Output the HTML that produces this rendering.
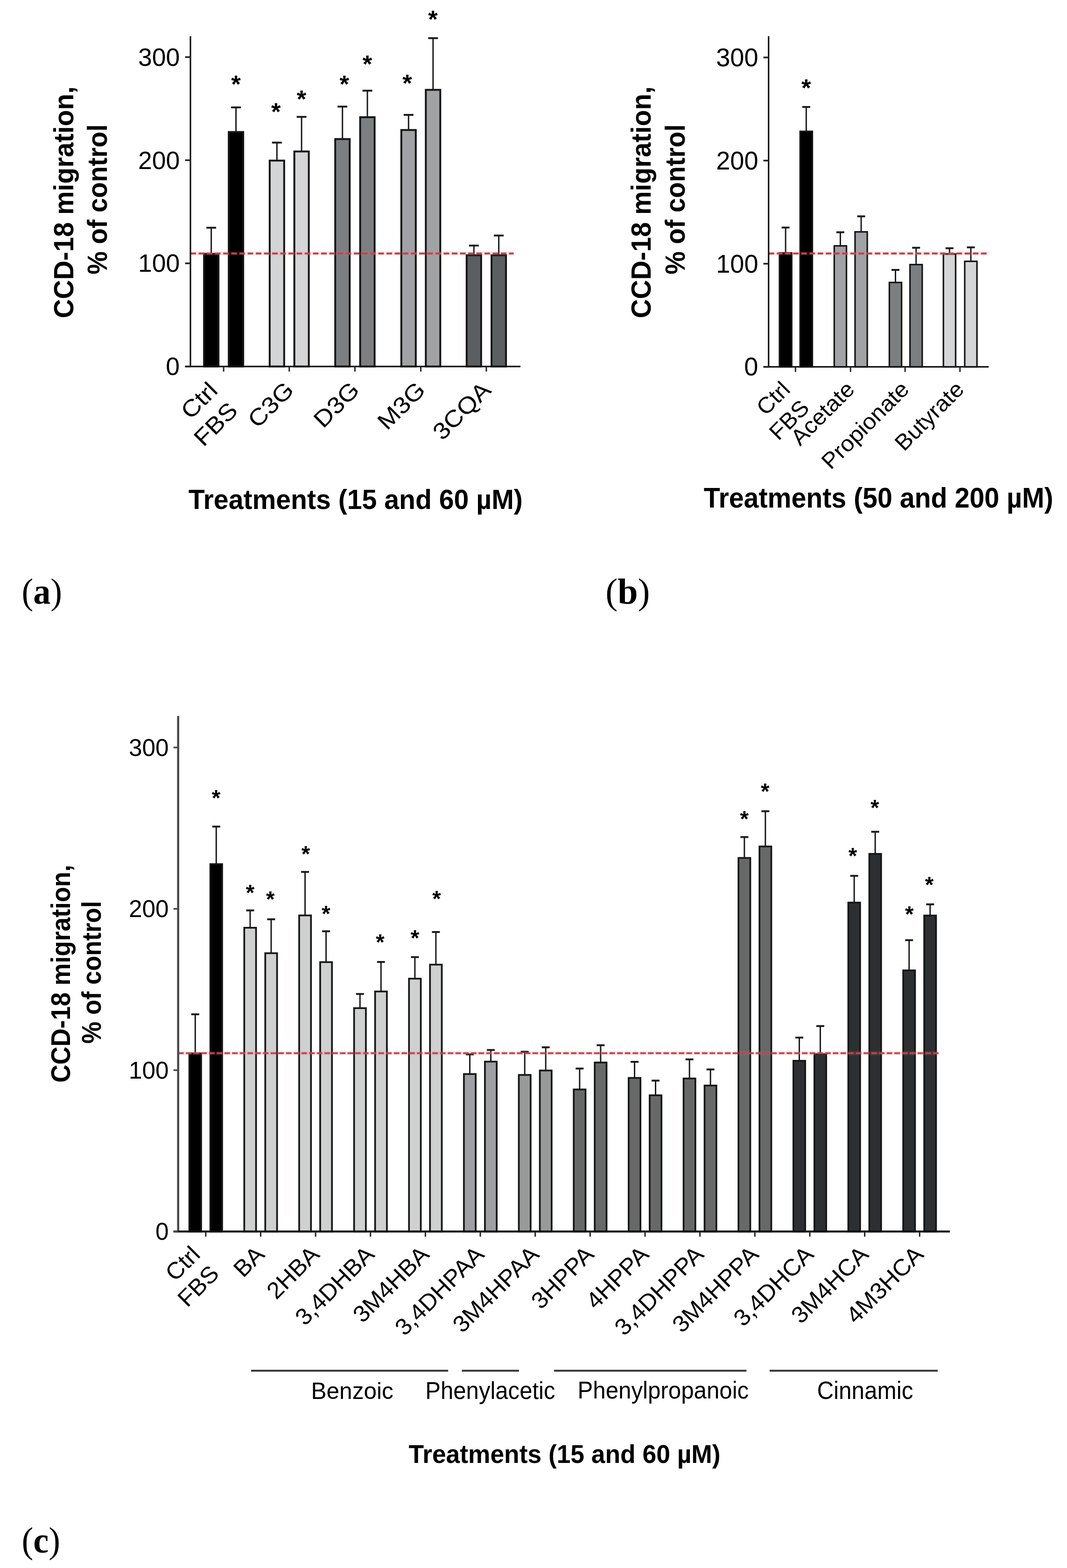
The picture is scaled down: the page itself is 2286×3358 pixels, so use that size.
<!DOCTYPE html>
<html><head><meta charset="utf-8"><title>CCD-18 migration</title>
<style>html,body{margin:0;padding:0;background:#fff;}svg{display:block;}</style></head>
<body><svg width="2286" height="3358" viewBox="0 0 2286 3358">
<rect width="2286" height="3358" fill="#fff"/>
<line x1="452.6" y1="542.6" x2="452.6" y2="487.7" stroke="#1a1a1a" stroke-width="3"/>
<line x1="442.1" y1="487.7" x2="463.1" y2="487.7" stroke="#1a1a1a" stroke-width="4"/>
<rect x="437.1" y="543.6" width="31" height="241.2" fill="#000" stroke="#151515" stroke-width="4"/>
<line x1="505.6" y1="281.7" x2="505.6" y2="230" stroke="#1a1a1a" stroke-width="3"/>
<line x1="495.1" y1="230" x2="516.1" y2="230" stroke="#1a1a1a" stroke-width="4"/>
<rect x="490.1" y="282.7" width="31" height="502.1" fill="#000" stroke="#151515" stroke-width="4"/>
<text x="495.14" y="197.58" font-family="'Liberation Sans', Arial, sans-serif" font-weight="bold" font-size="52.63">*</text>
<line x1="593.3" y1="342.9" x2="593.3" y2="305.4" stroke="#1a1a1a" stroke-width="3"/>
<line x1="582.8" y1="305.4" x2="603.8" y2="305.4" stroke="#1a1a1a" stroke-width="4"/>
<rect x="577.8" y="343.9" width="31" height="440.9" fill="#d3d5d7" stroke="#151515" stroke-width="4"/>
<text x="581.04" y="256.98" font-family="'Liberation Sans', Arial, sans-serif" font-weight="bold" font-size="52.63">*</text>
<line x1="646.1" y1="323.4" x2="646.1" y2="250.3" stroke="#1a1a1a" stroke-width="3"/>
<line x1="635.6" y1="250.3" x2="656.6" y2="250.3" stroke="#1a1a1a" stroke-width="4"/>
<rect x="630.6" y="324.4" width="31" height="460.4" fill="#d3d5d7" stroke="#151515" stroke-width="4"/>
<text x="635.74" y="229.88" font-family="'Liberation Sans', Arial, sans-serif" font-weight="bold" font-size="52.63">*</text>
<line x1="733.7" y1="296.8" x2="733.7" y2="228.3" stroke="#1a1a1a" stroke-width="3"/>
<line x1="723.2" y1="228.3" x2="744.2" y2="228.3" stroke="#1a1a1a" stroke-width="4"/>
<rect x="718.2" y="297.8" width="31" height="487" fill="#7c7f82" stroke="#151515" stroke-width="4"/>
<text x="727.54" y="197.58" font-family="'Liberation Sans', Arial, sans-serif" font-weight="bold" font-size="52.63">*</text>
<line x1="787.1" y1="250" x2="787.1" y2="194.2" stroke="#1a1a1a" stroke-width="3"/>
<line x1="776.6" y1="194.2" x2="797.6" y2="194.2" stroke="#1a1a1a" stroke-width="4"/>
<rect x="771.6" y="251" width="31" height="533.8" fill="#7c7f82" stroke="#151515" stroke-width="4"/>
<text x="776.74" y="154.58" font-family="'Liberation Sans', Arial, sans-serif" font-weight="bold" font-size="52.63">*</text>
<line x1="875.3" y1="277.4" x2="875.3" y2="246" stroke="#1a1a1a" stroke-width="3"/>
<line x1="864.8" y1="246" x2="885.8" y2="246" stroke="#1a1a1a" stroke-width="4"/>
<rect x="859.8" y="278.4" width="31" height="506.4" fill="#a0a2a5" stroke="#151515" stroke-width="4"/>
<text x="862.34" y="195.58" font-family="'Liberation Sans', Arial, sans-serif" font-weight="bold" font-size="52.63">*</text>
<line x1="927.8" y1="191.4" x2="927.8" y2="81.7" stroke="#1a1a1a" stroke-width="3"/>
<line x1="917.3" y1="81.7" x2="938.3" y2="81.7" stroke="#1a1a1a" stroke-width="4"/>
<rect x="912.3" y="192.4" width="31" height="592.4" fill="#a0a2a5" stroke="#151515" stroke-width="4"/>
<text x="917.14" y="59.18" font-family="'Liberation Sans', Arial, sans-serif" font-weight="bold" font-size="52.63">*</text>
<line x1="1015.3" y1="545.6" x2="1015.3" y2="525.9" stroke="#1a1a1a" stroke-width="3"/>
<line x1="1004.8" y1="525.9" x2="1025.8" y2="525.9" stroke="#1a1a1a" stroke-width="4"/>
<rect x="999.8" y="546.6" width="31" height="238.2" fill="#5c5f62" stroke="#151515" stroke-width="4"/>
<line x1="1068.6" y1="545.6" x2="1068.6" y2="504.4" stroke="#1a1a1a" stroke-width="3"/>
<line x1="1058.1" y1="504.4" x2="1079.1" y2="504.4" stroke="#1a1a1a" stroke-width="4"/>
<rect x="1053.1" y="546.6" width="31" height="238.2" fill="#5c5f62" stroke="#151515" stroke-width="4"/>
<line x1="408" y1="542.9" x2="1100.5" y2="542.9" stroke="#f06a6a" stroke-width="9" stroke-opacity="0.14"/>
<line x1="408" y1="542.9" x2="1100.5" y2="542.9" stroke="#c2444c" stroke-width="4.2" stroke-dasharray="12 5.5"/>
<line x1="408" y1="77.5" x2="408" y2="786.3" stroke="#111" stroke-width="3.2"/>
<line x1="396.6" y1="784.8" x2="1115" y2="784.8" stroke="#111" stroke-width="3.2"/>
<line x1="396.6" y1="784.8" x2="408" y2="784.8" stroke="#222" stroke-width="3.6"/>
<line x1="396.6" y1="563.95" x2="408" y2="563.95" stroke="#222" stroke-width="3.6"/>
<line x1="396.6" y1="343.1" x2="408" y2="343.1" stroke="#222" stroke-width="3.6"/>
<line x1="396.6" y1="122.25" x2="408" y2="122.25" stroke="#222" stroke-width="3.6"/>
<line x1="479.1" y1="784.8" x2="479.1" y2="795.8" stroke="#222" stroke-width="3"/>
<line x1="619.7" y1="784.8" x2="619.7" y2="795.8" stroke="#222" stroke-width="3"/>
<line x1="760.4" y1="784.8" x2="760.4" y2="795.8" stroke="#222" stroke-width="3"/>
<line x1="901.55" y1="784.8" x2="901.55" y2="795.8" stroke="#222" stroke-width="3"/>
<line x1="1041.95" y1="784.8" x2="1041.95" y2="795.8" stroke="#222" stroke-width="3"/>
<line x1="1683.1" y1="541" x2="1683.1" y2="487.3" stroke="#1a1a1a" stroke-width="3"/>
<line x1="1674.6" y1="487.3" x2="1691.6" y2="487.3" stroke="#1a1a1a" stroke-width="4"/>
<rect x="1670" y="541.65" width="26.2" height="243.95" fill="#000" stroke="#151515" stroke-width="3.3"/>
<line x1="1727.35" y1="280.7" x2="1727.35" y2="229.1" stroke="#1a1a1a" stroke-width="3"/>
<line x1="1718.85" y1="229.1" x2="1735.85" y2="229.1" stroke="#1a1a1a" stroke-width="4"/>
<rect x="1714.25" y="281.35" width="26.2" height="504.25" fill="#000" stroke="#151515" stroke-width="3.3"/>
<text x="1717.04" y="205.78" font-family="'Liberation Sans', Arial, sans-serif" font-weight="bold" font-size="52.63">*</text>
<line x1="1800.4" y1="525.9" x2="1800.4" y2="497.4" stroke="#1a1a1a" stroke-width="3"/>
<line x1="1791.9" y1="497.4" x2="1808.9" y2="497.4" stroke="#1a1a1a" stroke-width="4"/>
<rect x="1787.3" y="526.55" width="26.2" height="259.05" fill="#a0a2a5" stroke="#151515" stroke-width="3.3"/>
<line x1="1845" y1="495.9" x2="1845" y2="463.3" stroke="#1a1a1a" stroke-width="3"/>
<line x1="1836.5" y1="463.3" x2="1853.5" y2="463.3" stroke="#1a1a1a" stroke-width="4"/>
<rect x="1831.9" y="496.55" width="26.2" height="289.05" fill="#a0a2a5" stroke="#151515" stroke-width="3.3"/>
<line x1="1918.5" y1="604.3" x2="1918.5" y2="578" stroke="#1a1a1a" stroke-width="3"/>
<line x1="1910" y1="578" x2="1927" y2="578" stroke="#1a1a1a" stroke-width="4"/>
<rect x="1905.4" y="604.95" width="26.2" height="180.65" fill="#7c7f82" stroke="#151515" stroke-width="3.3"/>
<line x1="1962.7" y1="566" x2="1962.7" y2="530.6" stroke="#1a1a1a" stroke-width="3"/>
<line x1="1954.2" y1="530.6" x2="1971.2" y2="530.6" stroke="#1a1a1a" stroke-width="4"/>
<rect x="1949.6" y="566.65" width="26.2" height="218.95" fill="#7c7f82" stroke="#151515" stroke-width="3.3"/>
<line x1="2034.3" y1="543.3" x2="2034.3" y2="531.6" stroke="#1a1a1a" stroke-width="3"/>
<line x1="2025.8" y1="531.6" x2="2042.8" y2="531.6" stroke="#1a1a1a" stroke-width="4"/>
<rect x="2021.2" y="543.95" width="26.2" height="241.65" fill="#d3d5d7" stroke="#151515" stroke-width="3.3"/>
<line x1="2080" y1="559" x2="2080" y2="529.7" stroke="#1a1a1a" stroke-width="3"/>
<line x1="2071.5" y1="529.7" x2="2088.5" y2="529.7" stroke="#1a1a1a" stroke-width="4"/>
<rect x="2066.9" y="559.65" width="26.2" height="225.95" fill="#d3d5d7" stroke="#151515" stroke-width="3.3"/>
<line x1="1646.7" y1="542.9" x2="2118" y2="542.9" stroke="#f06a6a" stroke-width="9" stroke-opacity="0.14"/>
<line x1="1646.7" y1="542.9" x2="2118" y2="542.9" stroke="#c2444c" stroke-width="4.2" stroke-dasharray="12 5.5"/>
<line x1="1646.7" y1="77.4" x2="1646.7" y2="787.1" stroke="#111" stroke-width="3.2"/>
<line x1="1635.6" y1="785.6" x2="2118.2" y2="785.6" stroke="#111" stroke-width="3.2"/>
<line x1="1635.6" y1="785.6" x2="1646.7" y2="785.6" stroke="#222" stroke-width="3.6"/>
<line x1="1635.6" y1="564.75" x2="1646.7" y2="564.75" stroke="#222" stroke-width="3.6"/>
<line x1="1635.6" y1="343.9" x2="1646.7" y2="343.9" stroke="#222" stroke-width="3.6"/>
<line x1="1635.6" y1="123.05" x2="1646.7" y2="123.05" stroke="#222" stroke-width="3.6"/>
<line x1="1704.3" y1="785.6" x2="1704.3" y2="796.6" stroke="#222" stroke-width="3"/>
<line x1="1822.2" y1="785.6" x2="1822.2" y2="796.6" stroke="#222" stroke-width="3"/>
<line x1="1939.1" y1="785.6" x2="1939.1" y2="796.6" stroke="#222" stroke-width="3"/>
<line x1="2056.7" y1="785.6" x2="2056.7" y2="796.6" stroke="#222" stroke-width="3"/>
<text x="295.96" y="140.76" font-family="'Liberation Sans', Arial, sans-serif" font-size="53.66" textLength="89.2" lengthAdjust="spacingAndGlyphs">300</text>
<text x="295.96" y="361.61" font-family="'Liberation Sans', Arial, sans-serif" font-size="53.66" textLength="89.2" lengthAdjust="spacingAndGlyphs">200</text>
<text x="295.96" y="582.46" font-family="'Liberation Sans', Arial, sans-serif" font-size="53.66" textLength="89.2" lengthAdjust="spacingAndGlyphs">100</text>
<text x="355.3" y="803.31" font-family="'Liberation Sans', Arial, sans-serif" font-size="53.66" textLength="29.73" lengthAdjust="spacingAndGlyphs">0</text>
<text x="1534.24" y="141.9" font-family="'Liberation Sans', Arial, sans-serif" font-size="54.65" textLength="90.25" lengthAdjust="spacingAndGlyphs">300</text>
<text x="1534.24" y="362.75" font-family="'Liberation Sans', Arial, sans-serif" font-size="54.65" textLength="90.25" lengthAdjust="spacingAndGlyphs">200</text>
<text x="1534.24" y="583.6" font-family="'Liberation Sans', Arial, sans-serif" font-size="54.65" textLength="90.25" lengthAdjust="spacingAndGlyphs">100</text>
<text x="1594.27" y="804.45" font-family="'Liberation Sans', Arial, sans-serif" font-size="54.65" textLength="30.08" lengthAdjust="spacingAndGlyphs">0</text>
<text transform="translate(156.72,681.58) rotate(-90)" font-family="'Liberation Sans', Arial, sans-serif" font-weight="bold" font-size="58.93" textLength="496.77" lengthAdjust="spacingAndGlyphs" fill="#000">CCD-18 migration,</text>
<text transform="translate(229.01,587.79) rotate(-90)" font-family="'Liberation Sans', Arial, sans-serif" font-weight="bold" font-size="59.46" textLength="321.44" lengthAdjust="spacingAndGlyphs" fill="#000">% of control</text>
<text transform="translate(1394.22,681.58) rotate(-90)" font-family="'Liberation Sans', Arial, sans-serif" font-weight="bold" font-size="58.93" textLength="496.77" lengthAdjust="spacingAndGlyphs" fill="#000">CCD-18 migration,</text>
<text transform="translate(1466.51,587.79) rotate(-90)" font-family="'Liberation Sans', Arial, sans-serif" font-weight="bold" font-size="59.46" textLength="321.44" lengthAdjust="spacingAndGlyphs" fill="#000">% of control</text>
<text x="403.83" y="1089.71" font-family="'Liberation Sans', Arial, sans-serif" font-weight="bold" font-size="58.5" textLength="716.02" lengthAdjust="spacingAndGlyphs" fill="#000">Treatments (15 and 60 µM)</text>
<text x="1507.63" y="1087.16" font-family="'Liberation Sans', Arial, sans-serif" font-weight="bold" font-size="60.21" textLength="749" lengthAdjust="spacingAndGlyphs" fill="#000">Treatments (50 and 200 µM)</text>
<text transform="translate(469.2,839.2) rotate(-45)" x="-86.32" y="0" font-family="'Liberation Sans', Arial, sans-serif" font-weight="normal" font-size="50" textLength="86.32" lengthAdjust="spacingAndGlyphs" fill="#000">Ctrl</text>
<text transform="translate(512.3,882.2) rotate(-45)" x="-107.94" y="0" font-family="'Liberation Sans', Arial, sans-serif" font-weight="normal" font-size="50" textLength="107.94" lengthAdjust="spacingAndGlyphs" fill="#000">FBS</text>
<text transform="translate(632.4,838.3) rotate(-45)" x="-114.12" y="0" font-family="'Liberation Sans', Arial, sans-serif" font-weight="normal" font-size="50" textLength="114.12" lengthAdjust="spacingAndGlyphs" fill="#000">C3G</text>
<text transform="translate(773.1,838.3) rotate(-45)" x="-114.12" y="0" font-family="'Liberation Sans', Arial, sans-serif" font-weight="normal" font-size="50" textLength="114.12" lengthAdjust="spacingAndGlyphs" fill="#000">D3G</text>
<text transform="translate(914.25,838.3) rotate(-45)" x="-120.27" y="0" font-family="'Liberation Sans', Arial, sans-serif" font-weight="normal" font-size="50" textLength="120.27" lengthAdjust="spacingAndGlyphs" fill="#000">M3G</text>
<text transform="translate(1054.65,838.3) rotate(-45)" x="-151.14" y="0" font-family="'Liberation Sans', Arial, sans-serif" font-weight="normal" font-size="50" textLength="151.14" lengthAdjust="spacingAndGlyphs" fill="#000">3CQA</text>
<text transform="translate(1695.5,837.2) rotate(-45)" x="-77.64" y="0" font-family="'Liberation Sans', Arial, sans-serif" font-weight="normal" font-size="48" textLength="77.64" lengthAdjust="spacingAndGlyphs" fill="#000">Ctrl</text>
<text transform="translate(1736.5,876.5) rotate(-45)" x="-97.09" y="0" font-family="'Liberation Sans', Arial, sans-serif" font-weight="normal" font-size="48" textLength="97.09" lengthAdjust="spacingAndGlyphs" fill="#000">FBS</text>
<text transform="translate(1833.6,836.7) rotate(-45)" x="-169.29" y="0" font-family="'Liberation Sans', Arial, sans-serif" font-weight="normal" font-size="48" textLength="169.29" lengthAdjust="spacingAndGlyphs" fill="#000">Acetate</text>
<text transform="translate(1950.5,836.7) rotate(-45)" x="-241.47" y="0" font-family="'Liberation Sans', Arial, sans-serif" font-weight="normal" font-size="48" textLength="241.47" lengthAdjust="spacingAndGlyphs" fill="#000">Propionate</text>
<text transform="translate(2068.1,836.7) rotate(-45)" x="-185.91" y="0" font-family="'Liberation Sans', Arial, sans-serif" font-weight="normal" font-size="48" textLength="185.91" lengthAdjust="spacingAndGlyphs" fill="#000">Butyrate</text>
<line x1="418.3" y1="2255.1" x2="418.3" y2="2172.2" stroke="#1a1a1a" stroke-width="3"/>
<line x1="409.8" y1="2172.2" x2="426.8" y2="2172.2" stroke="#1a1a1a" stroke-width="4"/>
<rect x="405.65" y="2255.95" width="25.3" height="381.45" fill="#000" stroke="#151515" stroke-width="3.7"/>
<line x1="463.3" y1="1849.7" x2="463.3" y2="1770.2" stroke="#1a1a1a" stroke-width="3"/>
<line x1="454.8" y1="1770.2" x2="471.8" y2="1770.2" stroke="#1a1a1a" stroke-width="4"/>
<rect x="450.65" y="1850.55" width="25.3" height="786.85" fill="#000" stroke="#151515" stroke-width="3.7"/>
<text x="453.66" y="1725.22" font-family="'Liberation Sans', Arial, sans-serif" font-weight="bold" font-size="47.37">*</text>
<line x1="535.95" y1="1986" x2="535.95" y2="1949.7" stroke="#1a1a1a" stroke-width="3"/>
<line x1="527.45" y1="1949.7" x2="544.45" y2="1949.7" stroke="#1a1a1a" stroke-width="4"/>
<rect x="523.3" y="1986.85" width="25.3" height="650.55" fill="#cfd1d1" stroke="#151515" stroke-width="3.7"/>
<text x="526.76" y="1927.52" font-family="'Liberation Sans', Arial, sans-serif" font-weight="bold" font-size="47.37">*</text>
<line x1="580.95" y1="2040.5" x2="580.95" y2="1968.7" stroke="#1a1a1a" stroke-width="3"/>
<line x1="572.45" y1="1968.7" x2="589.45" y2="1968.7" stroke="#1a1a1a" stroke-width="4"/>
<rect x="568.3" y="2041.35" width="25.3" height="596.05" fill="#cfd1d1" stroke="#151515" stroke-width="3.7"/>
<text x="569.96" y="1941.72" font-family="'Liberation Sans', Arial, sans-serif" font-weight="bold" font-size="47.37">*</text>
<line x1="653.6" y1="1959.6" x2="653.6" y2="1867.3" stroke="#1a1a1a" stroke-width="3"/>
<line x1="645.1" y1="1867.3" x2="662.1" y2="1867.3" stroke="#1a1a1a" stroke-width="4"/>
<rect x="640.95" y="1960.45" width="25.3" height="676.95" fill="#cfd1d1" stroke="#151515" stroke-width="3.7"/>
<text x="645.86" y="1844.62" font-family="'Liberation Sans', Arial, sans-serif" font-weight="bold" font-size="47.37">*</text>
<line x1="698.6" y1="2059.6" x2="698.6" y2="1994.4" stroke="#1a1a1a" stroke-width="3"/>
<line x1="690.1" y1="1994.4" x2="707.1" y2="1994.4" stroke="#1a1a1a" stroke-width="4"/>
<rect x="685.95" y="2060.45" width="25.3" height="576.95" fill="#cfd1d1" stroke="#151515" stroke-width="3.7"/>
<text x="689.16" y="1973.32" font-family="'Liberation Sans', Arial, sans-serif" font-weight="bold" font-size="47.37">*</text>
<line x1="771.25" y1="2158.2" x2="771.25" y2="2128.7" stroke="#1a1a1a" stroke-width="3"/>
<line x1="762.75" y1="2128.7" x2="779.75" y2="2128.7" stroke="#1a1a1a" stroke-width="4"/>
<rect x="758.6" y="2159.05" width="25.3" height="478.35" fill="#cfd1d1" stroke="#151515" stroke-width="3.7"/>
<line x1="816.25" y1="2122.5" x2="816.25" y2="2060.1" stroke="#1a1a1a" stroke-width="3"/>
<line x1="807.75" y1="2060.1" x2="824.75" y2="2060.1" stroke="#1a1a1a" stroke-width="4"/>
<rect x="803.6" y="2123.35" width="25.3" height="514.05" fill="#cfd1d1" stroke="#151515" stroke-width="3.7"/>
<text x="805.16" y="2034.02" font-family="'Liberation Sans', Arial, sans-serif" font-weight="bold" font-size="47.37">*</text>
<line x1="888.9" y1="2095" x2="888.9" y2="2049.7" stroke="#1a1a1a" stroke-width="3"/>
<line x1="880.4" y1="2049.7" x2="897.4" y2="2049.7" stroke="#1a1a1a" stroke-width="4"/>
<rect x="876.25" y="2095.85" width="25.3" height="541.55" fill="#cfd1d1" stroke="#151515" stroke-width="3.7"/>
<text x="879.76" y="2025.22" font-family="'Liberation Sans', Arial, sans-serif" font-weight="bold" font-size="47.37">*</text>
<line x1="933.9" y1="2065" x2="933.9" y2="1996" stroke="#1a1a1a" stroke-width="3"/>
<line x1="925.4" y1="1996" x2="942.4" y2="1996" stroke="#1a1a1a" stroke-width="4"/>
<rect x="921.25" y="2065.85" width="25.3" height="571.55" fill="#cfd1d1" stroke="#151515" stroke-width="3.7"/>
<text x="926.26" y="1941.42" font-family="'Liberation Sans', Arial, sans-serif" font-weight="bold" font-size="47.37">*</text>
<line x1="1006.55" y1="2299.3" x2="1006.55" y2="2258.1" stroke="#1a1a1a" stroke-width="3"/>
<line x1="998.05" y1="2258.1" x2="1015.05" y2="2258.1" stroke="#1a1a1a" stroke-width="4"/>
<rect x="993.9" y="2300.15" width="25.3" height="337.25" fill="#9d9fa2" stroke="#151515" stroke-width="3.7"/>
<line x1="1051.55" y1="2272.7" x2="1051.55" y2="2248.6" stroke="#1a1a1a" stroke-width="3"/>
<line x1="1043.05" y1="2248.6" x2="1060.05" y2="2248.6" stroke="#1a1a1a" stroke-width="4"/>
<rect x="1038.9" y="2273.55" width="25.3" height="363.85" fill="#9d9fa2" stroke="#151515" stroke-width="3.7"/>
<line x1="1124.2" y1="2301.2" x2="1124.2" y2="2252.4" stroke="#1a1a1a" stroke-width="3"/>
<line x1="1115.7" y1="2252.4" x2="1132.7" y2="2252.4" stroke="#1a1a1a" stroke-width="4"/>
<rect x="1111.55" y="2302.05" width="25.3" height="335.35" fill="#989a99" stroke="#151515" stroke-width="3.7"/>
<line x1="1169.2" y1="2291.7" x2="1169.2" y2="2242.9" stroke="#1a1a1a" stroke-width="3"/>
<line x1="1160.7" y1="2242.9" x2="1177.7" y2="2242.9" stroke="#1a1a1a" stroke-width="4"/>
<rect x="1156.55" y="2292.55" width="25.3" height="344.85" fill="#989a99" stroke="#151515" stroke-width="3.7"/>
<line x1="1241.85" y1="2332.3" x2="1241.85" y2="2288.4" stroke="#1a1a1a" stroke-width="3"/>
<line x1="1233.35" y1="2288.4" x2="1250.35" y2="2288.4" stroke="#1a1a1a" stroke-width="4"/>
<rect x="1229.2" y="2333.15" width="25.3" height="304.25" fill="#676968" stroke="#151515" stroke-width="3.7"/>
<line x1="1286.85" y1="2274.6" x2="1286.85" y2="2238.4" stroke="#1a1a1a" stroke-width="3"/>
<line x1="1278.35" y1="2238.4" x2="1295.35" y2="2238.4" stroke="#1a1a1a" stroke-width="4"/>
<rect x="1274.2" y="2275.45" width="25.3" height="361.95" fill="#676968" stroke="#151515" stroke-width="3.7"/>
<line x1="1359.5" y1="2307.6" x2="1359.5" y2="2274" stroke="#1a1a1a" stroke-width="3"/>
<line x1="1351" y1="2274" x2="1368" y2="2274" stroke="#1a1a1a" stroke-width="4"/>
<rect x="1346.85" y="2308.45" width="25.3" height="328.95" fill="#676968" stroke="#151515" stroke-width="3.7"/>
<line x1="1404.5" y1="2344.8" x2="1404.5" y2="2314.2" stroke="#1a1a1a" stroke-width="3"/>
<line x1="1396" y1="2314.2" x2="1413" y2="2314.2" stroke="#1a1a1a" stroke-width="4"/>
<rect x="1391.85" y="2345.65" width="25.3" height="291.75" fill="#676968" stroke="#151515" stroke-width="3.7"/>
<line x1="1477.15" y1="2308.8" x2="1477.15" y2="2268.7" stroke="#1a1a1a" stroke-width="3"/>
<line x1="1468.65" y1="2268.7" x2="1485.65" y2="2268.7" stroke="#1a1a1a" stroke-width="4"/>
<rect x="1464.5" y="2309.65" width="25.3" height="327.75" fill="#676968" stroke="#151515" stroke-width="3.7"/>
<line x1="1522.15" y1="2323.9" x2="1522.15" y2="2290.3" stroke="#1a1a1a" stroke-width="3"/>
<line x1="1513.65" y1="2290.3" x2="1530.65" y2="2290.3" stroke="#1a1a1a" stroke-width="4"/>
<rect x="1509.5" y="2324.75" width="25.3" height="312.65" fill="#676968" stroke="#151515" stroke-width="3.7"/>
<line x1="1594.8" y1="1836.5" x2="1594.8" y2="1792.6" stroke="#1a1a1a" stroke-width="3"/>
<line x1="1586.3" y1="1792.6" x2="1603.3" y2="1792.6" stroke="#1a1a1a" stroke-width="4"/>
<rect x="1582.15" y="1837.35" width="25.3" height="800.05" fill="#676968" stroke="#151515" stroke-width="3.7"/>
<text x="1585.56" y="1770.02" font-family="'Liberation Sans', Arial, sans-serif" font-weight="bold" font-size="47.37">*</text>
<line x1="1639.8" y1="1811.9" x2="1639.8" y2="1737.3" stroke="#1a1a1a" stroke-width="3"/>
<line x1="1631.3" y1="1737.3" x2="1648.3" y2="1737.3" stroke="#1a1a1a" stroke-width="4"/>
<rect x="1627.15" y="1812.75" width="25.3" height="824.65" fill="#676968" stroke="#151515" stroke-width="3.7"/>
<text x="1629.96" y="1711.32" font-family="'Liberation Sans', Arial, sans-serif" font-weight="bold" font-size="47.37">*</text>
<line x1="1712.45" y1="2270.9" x2="1712.45" y2="2222.1" stroke="#1a1a1a" stroke-width="3"/>
<line x1="1703.95" y1="2222.1" x2="1720.95" y2="2222.1" stroke="#1a1a1a" stroke-width="4"/>
<rect x="1699.8" y="2271.75" width="25.3" height="365.65" fill="#2d3032" stroke="#151515" stroke-width="3.7"/>
<line x1="1757.45" y1="2256.8" x2="1757.45" y2="2197.4" stroke="#1a1a1a" stroke-width="3"/>
<line x1="1748.95" y1="2197.4" x2="1765.95" y2="2197.4" stroke="#1a1a1a" stroke-width="4"/>
<rect x="1744.8" y="2257.65" width="25.3" height="379.75" fill="#2d3032" stroke="#151515" stroke-width="3.7"/>
<line x1="1830.1" y1="1932.1" x2="1830.1" y2="1875.7" stroke="#1a1a1a" stroke-width="3"/>
<line x1="1821.6" y1="1875.7" x2="1838.6" y2="1875.7" stroke="#1a1a1a" stroke-width="4"/>
<rect x="1817.45" y="1932.95" width="25.3" height="704.45" fill="#2d3032" stroke="#151515" stroke-width="3.7"/>
<text x="1817.66" y="1848.52" font-family="'Liberation Sans', Arial, sans-serif" font-weight="bold" font-size="47.37">*</text>
<line x1="1875.1" y1="1827.8" x2="1875.1" y2="1781.3" stroke="#1a1a1a" stroke-width="3"/>
<line x1="1866.6" y1="1781.3" x2="1883.6" y2="1781.3" stroke="#1a1a1a" stroke-width="4"/>
<rect x="1862.45" y="1828.65" width="25.3" height="808.75" fill="#2d3032" stroke="#151515" stroke-width="3.7"/>
<text x="1865.06" y="1746.12" font-family="'Liberation Sans', Arial, sans-serif" font-weight="bold" font-size="47.37">*</text>
<line x1="1947.75" y1="2077.3" x2="1947.75" y2="2013.4" stroke="#1a1a1a" stroke-width="3"/>
<line x1="1939.25" y1="2013.4" x2="1956.25" y2="2013.4" stroke="#1a1a1a" stroke-width="4"/>
<rect x="1935.1" y="2078.15" width="25.3" height="559.25" fill="#2d3032" stroke="#151515" stroke-width="3.7"/>
<text x="1938.96" y="1973.72" font-family="'Liberation Sans', Arial, sans-serif" font-weight="bold" font-size="47.37">*</text>
<line x1="1992.75" y1="1959.8" x2="1992.75" y2="1936.7" stroke="#1a1a1a" stroke-width="3"/>
<line x1="1984.25" y1="1936.7" x2="2001.25" y2="1936.7" stroke="#1a1a1a" stroke-width="4"/>
<rect x="1980.1" y="1960.65" width="25.3" height="676.75" fill="#2d3032" stroke="#151515" stroke-width="3.7"/>
<text x="1981.86" y="1911.12" font-family="'Liberation Sans', Arial, sans-serif" font-weight="bold" font-size="47.37">*</text>
<line x1="381.7" y1="2255.5" x2="2012" y2="2255.5" stroke="#f06a6a" stroke-width="9" stroke-opacity="0.14"/>
<line x1="381.7" y1="2255.5" x2="2012" y2="2255.5" stroke="#c2444c" stroke-width="4.2" stroke-dasharray="12 4.5"/>
<line x1="381.7" y1="1533.2" x2="381.7" y2="2638.9" stroke="#4a4a4a" stroke-width="4.6"/>
<line x1="371.6" y1="2637.4" x2="2035" y2="2637.4" stroke="#111" stroke-width="4.2"/>
<line x1="371.6" y1="2637.4" x2="381.7" y2="2637.4" stroke="#4a4a4a" stroke-width="3.6"/>
<line x1="371.6" y1="2291.85" x2="381.7" y2="2291.85" stroke="#4a4a4a" stroke-width="3.6"/>
<line x1="371.6" y1="1946.3" x2="381.7" y2="1946.3" stroke="#4a4a4a" stroke-width="3.6"/>
<line x1="371.6" y1="1600.75" x2="381.7" y2="1600.75" stroke="#4a4a4a" stroke-width="3.6"/>
<line x1="440.8" y1="2637.4" x2="440.8" y2="2648.4" stroke="#222" stroke-width="3"/>
<line x1="558.45" y1="2637.4" x2="558.45" y2="2648.4" stroke="#222" stroke-width="3"/>
<line x1="676.1" y1="2637.4" x2="676.1" y2="2648.4" stroke="#222" stroke-width="3"/>
<line x1="793.75" y1="2637.4" x2="793.75" y2="2648.4" stroke="#222" stroke-width="3"/>
<line x1="911.4" y1="2637.4" x2="911.4" y2="2648.4" stroke="#222" stroke-width="3"/>
<line x1="1029.05" y1="2637.4" x2="1029.05" y2="2648.4" stroke="#222" stroke-width="3"/>
<line x1="1146.7" y1="2637.4" x2="1146.7" y2="2648.4" stroke="#222" stroke-width="3"/>
<line x1="1264.35" y1="2637.4" x2="1264.35" y2="2648.4" stroke="#222" stroke-width="3"/>
<line x1="1382" y1="2637.4" x2="1382" y2="2648.4" stroke="#222" stroke-width="3"/>
<line x1="1499.65" y1="2637.4" x2="1499.65" y2="2648.4" stroke="#222" stroke-width="3"/>
<line x1="1617.3" y1="2637.4" x2="1617.3" y2="2648.4" stroke="#222" stroke-width="3"/>
<line x1="1734.95" y1="2637.4" x2="1734.95" y2="2648.4" stroke="#222" stroke-width="3"/>
<line x1="1852.6" y1="2637.4" x2="1852.6" y2="2648.4" stroke="#222" stroke-width="3"/>
<line x1="1970.25" y1="2637.4" x2="1970.25" y2="2648.4" stroke="#222" stroke-width="3"/>
<text x="276.05" y="1618.83" font-family="'Liberation Sans', Arial, sans-serif" font-size="52.39" textLength="85.52" lengthAdjust="spacingAndGlyphs">300</text>
<text x="276.05" y="1964.38" font-family="'Liberation Sans', Arial, sans-serif" font-size="52.39" textLength="85.52" lengthAdjust="spacingAndGlyphs">200</text>
<text x="276.05" y="2309.93" font-family="'Liberation Sans', Arial, sans-serif" font-size="52.39" textLength="85.52" lengthAdjust="spacingAndGlyphs">100</text>
<text x="332.95" y="2655.48" font-family="'Liberation Sans', Arial, sans-serif" font-size="52.39" textLength="28.51" lengthAdjust="spacingAndGlyphs">0</text>
<text transform="translate(149.57,2318.54) rotate(-90)" font-family="'Liberation Sans', Arial, sans-serif" font-weight="bold" font-size="56.79" textLength="466.69" lengthAdjust="spacingAndGlyphs" fill="#000">CCD-18 migration,</text>
<text transform="translate(215.73,2235.12) rotate(-90)" font-family="'Liberation Sans', Arial, sans-serif" font-weight="bold" font-size="57.28" textLength="305.69" lengthAdjust="spacingAndGlyphs" fill="#000">% of control</text>
<line x1="537.9" y1="2935.4" x2="960.2" y2="2935.4" stroke="#333" stroke-width="4"/>
<line x1="989.5" y1="2935.4" x2="1111.9" y2="2935.4" stroke="#333" stroke-width="4"/>
<line x1="1187" y1="2935.4" x2="1599.4" y2="2935.4" stroke="#333" stroke-width="4"/>
<line x1="1648.9" y1="2935.4" x2="2009" y2="2935.4" stroke="#333" stroke-width="4"/>
<text x="666.43" y="2995.69" font-family="'Liberation Sans', Arial, sans-serif" font-weight="normal" font-size="50.75" textLength="176.39" lengthAdjust="spacingAndGlyphs" fill="#000">Benzoic</text>
<text x="911.27" y="2995.53" font-family="'Liberation Sans', Arial, sans-serif" font-weight="normal" font-size="51.76" textLength="278.26" lengthAdjust="spacingAndGlyphs" fill="#000">Phenylacetic</text>
<text x="1237.46" y="2995.42" font-family="'Liberation Sans', Arial, sans-serif" font-weight="normal" font-size="51.34" textLength="366.77" lengthAdjust="spacingAndGlyphs" fill="#000">Phenylpropanoic</text>
<text x="1750.43" y="2996.36" font-family="'Liberation Sans', Arial, sans-serif" font-weight="normal" font-size="53.74" textLength="205.91" lengthAdjust="spacingAndGlyphs" fill="#000">Cinnamic</text>
<text x="875.57" y="3132.63" font-family="'Liberation Sans', Arial, sans-serif" font-weight="bold" font-size="56.04" textLength="667.99" lengthAdjust="spacingAndGlyphs" fill="#000">Treatments (15 and 60 µM)</text>
<text transform="translate(431.7,2689.7) rotate(-45)" x="-80.09" y="0" font-family="'Liberation Sans', Arial, sans-serif" font-weight="normal" font-size="50" textLength="80.09" lengthAdjust="spacingAndGlyphs" fill="#000">Ctrl</text>
<text transform="translate(472.1,2730.8) rotate(-45)" x="-100.16" y="0" font-family="'Liberation Sans', Arial, sans-serif" font-weight="normal" font-size="50" textLength="100.16" lengthAdjust="spacingAndGlyphs" fill="#000">FBS</text>
<text transform="translate(569.45,2689.5) rotate(-45)" x="-68.7" y="0" font-family="'Liberation Sans', Arial, sans-serif" font-weight="normal" font-size="50" textLength="68.7" lengthAdjust="spacingAndGlyphs" fill="#000">BA</text>
<text transform="translate(687.1,2689.5) rotate(-45)" x="-134.54" y="0" font-family="'Liberation Sans', Arial, sans-serif" font-weight="normal" font-size="50" textLength="134.54" lengthAdjust="spacingAndGlyphs" fill="#000">2HBA</text>
<text transform="translate(804.75,2689.5) rotate(-45)" x="-214.68" y="0" font-family="'Liberation Sans', Arial, sans-serif" font-weight="normal" font-size="50" textLength="214.68" lengthAdjust="spacingAndGlyphs" fill="#000">3,4DHBA</text>
<text transform="translate(922.4,2689.5) rotate(-45)" x="-206.08" y="0" font-family="'Liberation Sans', Arial, sans-serif" font-weight="normal" font-size="50" textLength="206.08" lengthAdjust="spacingAndGlyphs" fill="#000">3M4HBA</text>
<text transform="translate(1040.05,2689.5) rotate(-45)" x="-245.21" y="0" font-family="'Liberation Sans', Arial, sans-serif" font-weight="normal" font-size="50" textLength="245.21" lengthAdjust="spacingAndGlyphs" fill="#000">3,4DHPAA</text>
<text transform="translate(1157.7,2689.5) rotate(-45)" x="-236.61" y="0" font-family="'Liberation Sans', Arial, sans-serif" font-weight="normal" font-size="50" textLength="236.61" lengthAdjust="spacingAndGlyphs" fill="#000">3M4HPAA</text>
<text transform="translate(1275.35,2689.5) rotate(-45)" x="-165.07" y="0" font-family="'Liberation Sans', Arial, sans-serif" font-weight="normal" font-size="50" textLength="165.07" lengthAdjust="spacingAndGlyphs" fill="#000">3HPPA</text>
<text transform="translate(1393,2689.5) rotate(-45)" x="-165.07" y="0" font-family="'Liberation Sans', Arial, sans-serif" font-weight="normal" font-size="50" textLength="165.07" lengthAdjust="spacingAndGlyphs" fill="#000">4HPPA</text>
<text transform="translate(1510.65,2689.5) rotate(-45)" x="-245.21" y="0" font-family="'Liberation Sans', Arial, sans-serif" font-weight="normal" font-size="50" textLength="245.21" lengthAdjust="spacingAndGlyphs" fill="#000">3,4DHPPA</text>
<text transform="translate(1628.3,2689.5) rotate(-45)" x="-236.61" y="0" font-family="'Liberation Sans', Arial, sans-serif" font-weight="normal" font-size="50" textLength="236.61" lengthAdjust="spacingAndGlyphs" fill="#000">3M4HPPA</text>
<text transform="translate(1745.95,2689.5) rotate(-45)" x="-217.52" y="0" font-family="'Liberation Sans', Arial, sans-serif" font-weight="normal" font-size="50" textLength="217.52" lengthAdjust="spacingAndGlyphs" fill="#000">3,4DHCA</text>
<text transform="translate(1863.6,2689.5) rotate(-45)" x="-208.93" y="0" font-family="'Liberation Sans', Arial, sans-serif" font-weight="normal" font-size="50" textLength="208.93" lengthAdjust="spacingAndGlyphs" fill="#000">3M4HCA</text>
<text transform="translate(1981.25,2689.5) rotate(-45)" x="-208.93" y="0" font-family="'Liberation Sans', Arial, sans-serif" font-weight="normal" font-size="50" textLength="208.93" lengthAdjust="spacingAndGlyphs" fill="#000">4M3HCA</text>
<text x="46.4" y="1292.9" font-family="'Liberation Serif', 'Times New Roman', serif" font-size="77.2" textLength="86.6" lengthAdjust="spacingAndGlyphs">(<tspan font-weight="bold">a</tspan>)</text>
<text x="1297.2" y="1292.9" font-family="'Liberation Serif', 'Times New Roman', serif" font-size="77.2" textLength="95.3" lengthAdjust="spacingAndGlyphs">(<tspan font-weight="bold">b</tspan>)</text>
<text x="46.4" y="3324.5" font-family="'Liberation Serif', 'Times New Roman', serif" font-size="77.2" textLength="82.6" lengthAdjust="spacingAndGlyphs">(<tspan font-weight="bold">c</tspan>)</text>
</svg></body></html>
